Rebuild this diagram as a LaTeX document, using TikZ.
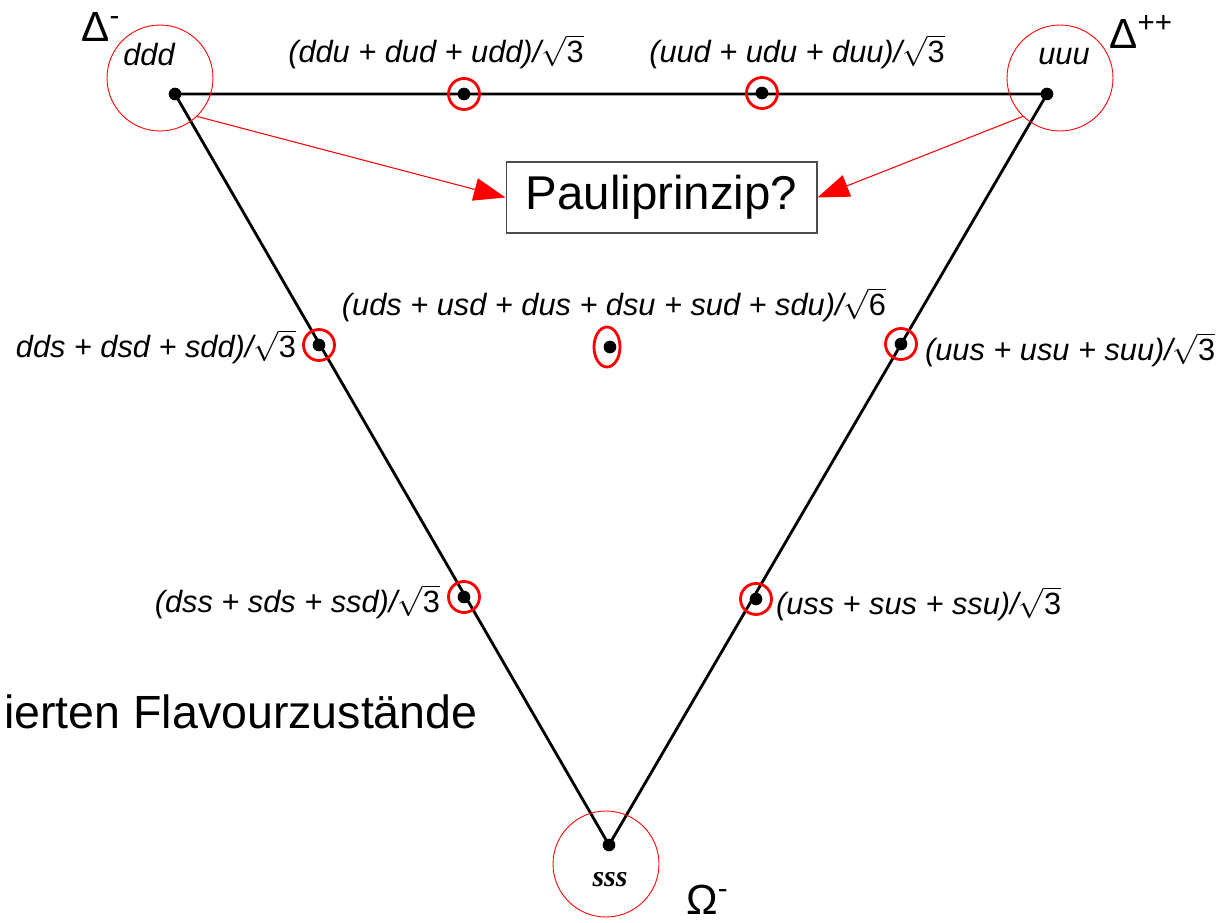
\documentclass[tikz,border=0pt]{standalone}
\usepackage{fontspec}
\setmainfont{Liberation Sans}
\newfontfamily\serifschrift{Liberation Serif}
\usepackage{tikz}
\usetikzlibrary{arrows.meta}
\newcommand{\wurzel}[1]{$\sqrt{\mbox{\upshape #1}}$}

\begin{document}
\begin{tikzpicture}[x=0.02cm, y=-0.02cm,
        zst/.style={font=\fontsize{17.5}{20}\selectfont\itshape, inner sep=1pt},
        gross/.style={font=\fontsize{27}{30}\selectfont},
        teilchen/.style={font=\fontsize{24}{28}\selectfont, anchor=base west, inner sep=0pt},
        ring/.style={draw=red, circle, line width=0.5pt, minimum size=2.12cm, inner sep=0pt},
        kringel/.style={draw=red, circle, line width=1.6pt, minimum size=0.62cm, inner sep=0pt},
        pfeil/.style={red, line width=0.6pt, -{Triangle[length=18pt,width=13pt]}}]
        \useasboundingbox (0,0) rectangle (1228,923);

        \coordinate (ddd) at (175,94);
        \coordinate (uuu) at (1047,94);
        \coordinate (sss) at (609,845);
        \coordinate (ddu) at (464,94);
        \coordinate (uud) at (762,93);
        \coordinate (dds) at (319,345);
        \coordinate (uus) at (901,344);
        \coordinate (dss) at (464,597);
        \coordinate (uss) at (756,599);
        \coordinate (uds) at (610,347);

        \draw[line width=1.6pt] (ddd) -- (uuu) -- (sss) -- cycle;

        \foreach \p in {ddd,uuu,sss,ddu,uud,dds,uus,dss,uss,uds}
            \fill (\p) circle (3.6pt);

        \foreach \p in {ddu,uud,dds,uus,dss,uss}
            \node[kringel] (k\p) at (\p) {};
        \draw[red, line width=1.6pt] (607,347) ellipse (0.26cm and 0.4cm);

        \node[ring] (rddd) at (160,78) {};
        \node[ring] (ruuu) at (1060,78) {};
        \node[ring] (rsss) at (606,864) {};

        \node[draw=black!70, line width=0.6pt, gross, minimum width=6.22cm, minimum height=1.42cm, inner sep=0pt] (pauli) at (661.5,197.5) {Pauliprinzip?};
        \draw[pfeil] (rddd.-46) -- (pauli.west);
        \draw[pfeil] (ruuu.-134) -- (pauli.east);

        \node[zst] (lddd) at (149,55) {ddd};
        \node[zst] (luuu) at (1064,57) {uuu};
        \node[font=\fontsize{17}{20}\selectfont\serifschrift\bfseries\itshape] (lsss) at (610,880) {sss};

        \node[zst] (lddu) at (436,52) {(ddu + dud + udd)/\wurzel{3}};
        \node[zst] (luud) at (797,52) {(uud + udu + duu)/\wurzel{3}};
        \node[zst] (luds) at (614,305) {(uds + usd + dus + dsu + sud + sdu)/\wurzel{6}};
        \node[zst, anchor=east] (ldds) at (298,347) {dds + dsd + sdd)/\wurzel{3}};
        \node[zst, anchor=west] (luus) at (923,350) {(uus + usu + suu)/\wurzel{3}};
        \node[zst, anchor=east] (ldss) at (442,602) {(dss + sds + ssd)/\wurzel{3}};
        \node[zst, anchor=west] (luss) at (774,604) {(uss + sus + ssu)/\wurzel{3}};

        \node[teilchen] (deltam) at (81,41) {Δ\textsuperscript{-}};
        \node[teilchen] (deltapp) at (1109,48) {Δ\textsuperscript{++}};
        \node[teilchen] (omegam) at (686,914) {Ω\textsuperscript{-}};

        \node[font=\fontsize{26.5}{30}\selectfont, anchor=base east, inner sep=0pt] (flavour) at (478,728) {ierten Flavourzustände};
    \end{tikzpicture}
\end{document}
